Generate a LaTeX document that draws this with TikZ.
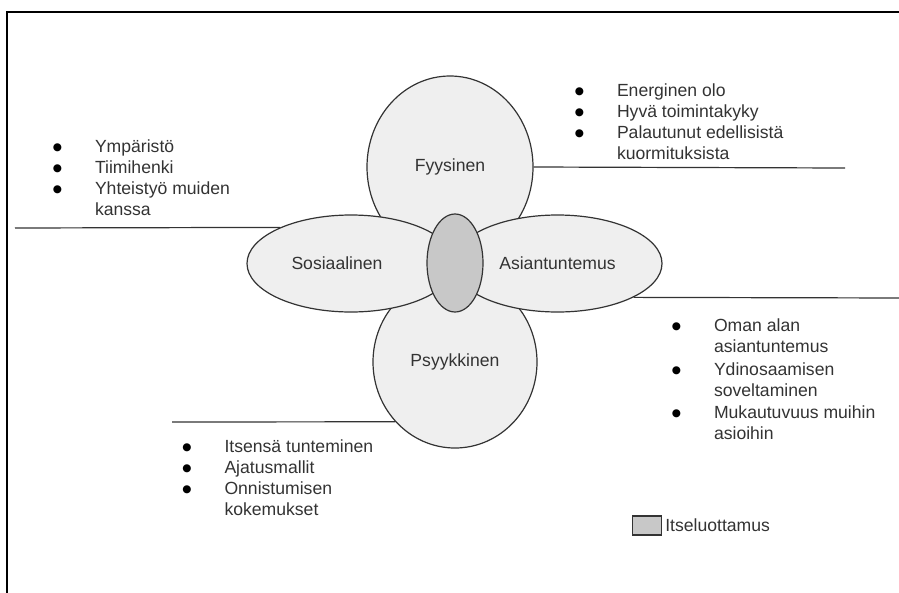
\documentclass[tikz,border=0pt]{standalone}
\usepackage{fontspec}
\setmainfont{Liberation Sans}
\newfontfamily\dotfont{DejaVu Sans}
\usepackage{tikz}
\usetikzlibrary{positioning,%
  shapes.geometric}

\definecolor{petalfill}{HTML}{EFEFEF}
\definecolor{corefill}{HTML}{C8C8C8}
\definecolor{ink}{HTML}{333333}

\newcommand{\blt}{\makebox[9.3pt]{\raisebox{2.3pt}{\textcolor{black}{\dotfont\fontsize{10.5}{11}\selectfont ●}}}}

\begin{document}
\begin{tikzpicture}
                    [x=1pt, y=-1pt,
                    petal/.style={ellipse,
                        inner sep=0pt,
                        fill=petalfill, draw=ink, line width=1.2pt,
                        text=ink, font=\fontsize{17.6}{20.8}\selectfont},
                    core/.style={ellipse,
                        minimum width=56pt, minimum height=98pt,
                        fill=corefill, draw=ink, line width=1.2pt},
                    lst/.style={anchor=north west, inner sep=0pt,
                        text=ink, font=\fontsize{17.6}{20.8}\selectfont},
                    stem/.style={draw=ink, line width=1.2pt}]

                    \clip (0,0) rectangle (899,592);
                    \draw[line width=2pt]
                        (7,610) -- (7,12) -- (910,12);

                    % petals
                    \node[petal, minimum width=166pt, minimum height=182pt]
                        (fys) at (450,167) {Fyysinen};
                    \node[petal, minimum width=164pt, minimum height=172pt]
                        (psy) at (455,362) {Psyykkinen};
                    \node[petal, minimum width=208pt, minimum height=97pt,
                        label={[text=ink, font=\fontsize{17.6}{20.8}\selectfont,
                        xshift=-14pt]center:Sosiaalinen}]
                        (sos) at (351,263.5) {};
                    \node[petal, minimum width=209pt, minimum height=97pt]
                        (asi) at (557.5,263.5) {Asiantuntemus};
                    \node[core] (core) at (455,263) {};

                    % free ends of the lines
                    \coordinate (fysend) at (845,168);
                    \coordinate (sosend) at (15,228);
                    \coordinate (asiend) at (905,298);
                    \coordinate (psyend) at (172,422);

                    \draw[stem] (fys.east) -- (fysend);
                    \draw[stem] (sos.153) -- (sosend);
                    \draw[stem] (asi.-24) -- (asiend);
                    \draw[stem] (psy.225) -- (psyend);

                    % lists
                    \node[lst] (soslist) at (52.5,138)
                        {\begin{tabular}{@{}l@{\hspace{33pt}}l@{}}
                        \blt & Ympäristö\\
                        \blt & Tiimihenki\\
                        \blt & Yhteistyö muiden\\
                             & kanssa
                        \end{tabular}};
                    \node[lst] (fyslist) at (574.5,82)
                        {\begin{tabular}{@{}l@{\hspace{33pt}}l@{}}
                        \blt & Energinen olo\\
                        \blt & Hyvä toimintakyky\\
                        \blt & Palautunut edellisistä\\
                             & kuormituksista
                        \end{tabular}};
                    \node[lst] (asilist) at (671.5,317)
                        {\begin{tabular}{@{}l@{\hspace{33pt}}l@{}}
                        \blt & Oman alan\\
                             & asiantuntemus\\[2pt]
                        \blt & Ydinosaamisen\\
                             & soveltaminen\\[2pt]
                        \blt & Mukautuvuus muihin\\
                             & asioihin
                        \end{tabular}};
                    \node[lst] (psylist) at (182,438)
                        {\begin{tabular}{@{}l@{\hspace{33pt}}l@{}}
                        \blt & Itsensä tunteminen\\
                        \blt & Ajatusmallit\\
                        \blt & Onnistumisen\\
                             & kokemukset
                        \end{tabular}};

                    % legend
                    \node[draw=ink, fill=corefill, line width=1.2pt,
                        minimum width=29pt, minimum height=19pt, inner sep=0pt]
                        (key) at (647,525.5) {};
                    \node[lst, anchor=west, right=3pt of key]
                        (keytext) {Itseluottamus};
                \end{tikzpicture}
\end{document}
